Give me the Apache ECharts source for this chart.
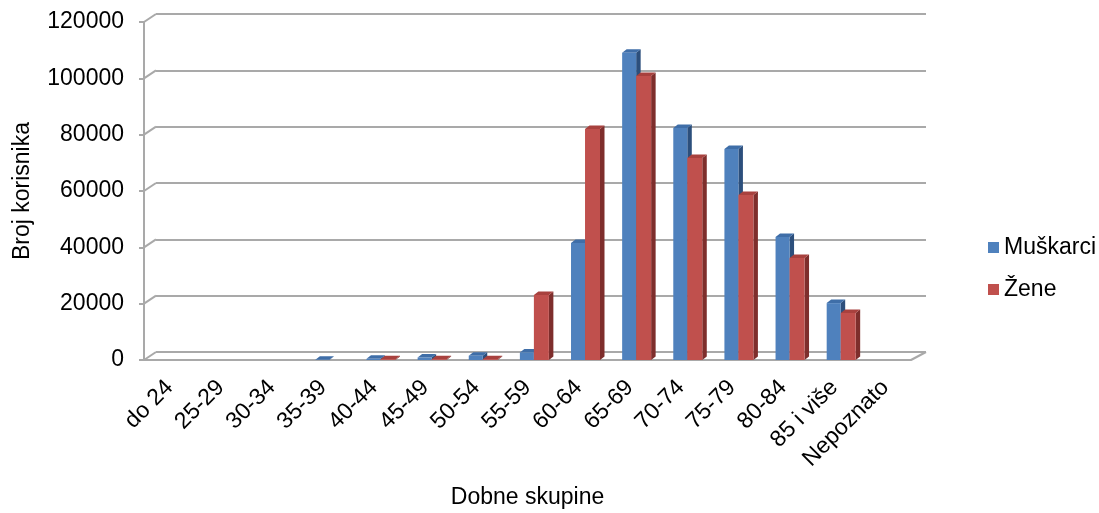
<!DOCTYPE html>
<html>
<head>
<meta charset="utf-8">
<script src="https://cdn.jsdelivr.net/npm/echarts@6/dist/echarts.min.js"></script>
<style>
  html, body { margin: 0; padding: 0; background: #fff; }
  #chart { width: 1099px; height: 513px; }
</style>
</head>
<body>
<div id="chart"></div>
<script>
const categories = ['do 24', '25-29', '30-34', '35-39', '40-44', '45-49', '50-54', '55-59',
  '60-64', '65-69', '70-74', '75-79', '80-84', '85 i više', 'Nepoznato'];
const muskarci = [0, 0, 0, 100, 400, 900, 1500, 2700, 41500, 109100, 82400, 74900, 43700, 20200, 0];
const zene = [0, 0, 0, 0, 300, 300, 300, 23100, 82000, 100800, 71700, 58600, 36200, 16700, 0];
const yTicks = [0, 20000, 40000, 60000, 80000, 100000, 120000];

const FONT = 'Arial, "Liberation Sans", sans-serif';
const FS = 23;
const GRID_COLOR = '#a9a9a9';
const DEPTH_L = [12, -8];
const DEPTH_R = [15, -8];
const BAR_DX = 4.5, BAR_DY = -3.5;

// 3d-looking column: front face, top face, right side
function barRenderer(off0, off1, front, top, side) {
  return function (params, api) {
    const idx = api.value(0);
    const v = api.value(1);
    if (!v) return null;
    const base = api.coord([idx, 0]);
    const tp = api.coord([idx, v]);
    const bw = api.size([1, 0])[0];
    const x0 = base[0] + bw * off0;
    const x1 = base[0] + bw * off1;
    const y0 = tp[1], y1 = base[1];
    return {
      type: 'group',
      children: [
        { type: 'polygon', shape: { points: [[x1, y0], [x1 + BAR_DX, y0 + BAR_DY], [x1 + BAR_DX, y1 + BAR_DY], [x1, y1]] },
          style: { fill: side } },
        { type: 'polygon', shape: { points: [[x0, y0], [x1, y0], [x1 + BAR_DX, y0 + BAR_DY], [x0 + BAR_DX, y0 + BAR_DY]] },
          style: { fill: top } },
        { type: 'rect', shape: { x: x0, y: y0, width: x1 - x0, height: y1 - y0 },
          style: { fill: front } }
      ]
    };
  };
}

// diagonal links between the front axes and the back wall
function wallRenderer(params, api) {
  const v = api.value(1);
  const p = api.coord([0, v]);
  const bw = api.size([1, 0])[0];
  const x = p[0] - bw / 2;
  const children = [{
    type: 'line',
    shape: { x1: x, y1: p[1], x2: x + DEPTH_L[0], y2: p[1] + DEPTH_L[1] },
    style: { stroke: GRID_COLOR, lineWidth: 2 }
  }];
  if (v === 0) {
    const q = api.coord([categories.length - 1, 0]);
    const xr = q[0] + bw / 2;
    children.push({
      type: 'line',
      shape: { x1: xr, y1: q[1], x2: xr + DEPTH_R[0], y2: q[1] + DEPTH_R[1] },
      style: { stroke: GRID_COLOR, lineWidth: 2 }
    });
  }
  return { type: 'group', children: children };
}

const chart = echarts.init(document.getElementById('chart'));
chart.setOption({
  backgroundColor: '#fff',
  animation: false,
  textStyle: { fontFamily: FONT },
  legend: {
    orient: 'vertical',
    left: 983,
    top: 231,
    itemWidth: 11,
    itemHeight: 11,
    itemGap: 19,
    icon: 'rect',
    textStyle: { fontFamily: FONT, fontSize: FS, color: '#000' },
    data: ['Muškarci', 'Žene']
  },
  grid: [
    { left: 144, right: 188, top: 22, bottom: 153, outerBoundsMode: 'none', containLabel: false },
    { left: 156, right: 173, top: 14, bottom: 161, outerBoundsMode: 'none', containLabel: false }
  ],
  xAxis: [
    {
      type: 'category',
      gridIndex: 0,
      data: categories,
      name: 'Dobne skupine',
      nameLocation: 'middle',
      nameGap: 126,
      nameTextStyle: { fontFamily: FONT, fontSize: FS, color: '#000' },
      axisLine: { lineStyle: { color: GRID_COLOR, width: 2 } },
      axisTick: { length: 8, lineStyle: { color: GRID_COLOR, width: 2 } },
      axisLabel: { rotate: 45, margin: 24, fontFamily: FONT, fontSize: FS, color: '#000', interval: 0 }
    },
    {
      type: 'category',
      gridIndex: 1,
      data: categories,
      show: false
    }
  ],
  yAxis: [
    {
      type: 'value',
      gridIndex: 0,
      min: 0,
      max: 120000,
      interval: 20000,
      name: 'Broj korisnika',
      nameLocation: 'middle',
      nameGap: 110,
      nameTextStyle: { fontFamily: FONT, fontSize: FS, color: '#000' },
      axisLine: { show: true, lineStyle: { color: GRID_COLOR, width: 2 } },
      axisTick: { show: true, length: 5, lineStyle: { color: GRID_COLOR, width: 2 } },
      axisLabel: { margin: 20, fontFamily: FONT, fontSize: FS, color: '#000', formatter: v => String(v) },
      splitLine: { show: false }
    },
    {
      type: 'value',
      gridIndex: 1,
      min: 0,
      max: 120000,
      interval: 20000,
      axisLine: { show: false },
      axisTick: { show: false },
      axisLabel: { show: false },
      splitLine: { show: true, lineStyle: { color: GRID_COLOR, width: 2 } }
    }
  ],
  series: [
    {
      name: 'walls',
      type: 'custom',
      xAxisIndex: 0,
      yAxisIndex: 0,
      silent: true,
      renderItem: wallRenderer,
      data: yTicks.map(v => [0, v]),
      z: 1
    },
    {
      name: 'Muškarci',
      type: 'custom',
      xAxisIndex: 0,
      yAxisIndex: 0,
      itemStyle: { color: '#4f81bd' },
      renderItem: barRenderer(-0.149, 0.125, '#4f81bd', '#3f6ea8', '#2c4f7c'),
      data: muskarci.map((v, i) => [i, v]),
      z: 3
    },
    {
      name: 'Žene',
      type: 'custom',
      xAxisIndex: 0,
      yAxisIndex: 0,
      itemStyle: { color: '#c0504d' },
      renderItem: barRenderer(0.125, 0.418, '#c0504d', '#a8413e', '#7e2e2c'),
      data: zene.map((v, i) => [i, v]),
      z: 4
    }
  ]
});
</script>
</body>
</html>
